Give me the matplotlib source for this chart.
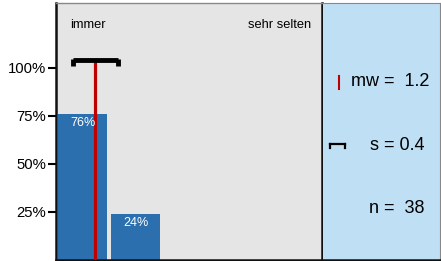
import numpy as np
import matplotlib.pyplot as plt

plt.rcParams['font.family'] = ['Liberation Sans', 'DejaVu Sans']

categories = [1, 2, 3, 4, 5]
shares = [76, 24, 0, 0, 0]
bar_labels = ['76%', '24%', '', '', '']
yticks = [25, 50, 75, 100]
ytick_labels = ['25%', '50%', '75%', '100%']
n = 38
mean = 1.24
sd = 0.427

W, H = 441, 261
fig = plt.figure(figsize=(W / 100, H / 100), dpi=100)

ax = fig.add_axes([56 / W, 1.3 / H, 266 / W, 256.7 / H])
ax.set_facecolor('#e5e5e5')
ax.set_xlim(0.5, 5.5)
ax.set_ylim(0, 133.7)

bars = ax.bar(categories, shares, width=0.92, color='#2b6fae', zorder=2)
for b, lab in zip(bars, bar_labels):
    if lab:
        ax.text(b.get_x() + b.get_width() / 2, b.get_height() - 4.8, lab,
                ha='center', va='center', color='white', fontsize=9, zorder=4)

# mean line and sd bar
ax.plot([mean, mean], [0, 104], color='#c00000', lw=2.3, zorder=3,
        solid_capstyle='butt')
ax.plot([mean - sd, mean + sd], [104, 104], color='black', lw=3.5, zorder=5,
        solid_capstyle='butt')
for xe in (mean - sd, mean + sd):
    ax.plot([xe, xe], [104.5, 100.8], color='black', lw=3.5, zorder=5,
            solid_capstyle='butt')

ax.text(0.053, 0.915, 'immer', transform=ax.transAxes, fontsize=9.3,
        ha='left', va='center')
ax.text(0.96, 0.915, 'sehr selten', transform=ax.transAxes, fontsize=9.3,
        ha='right', va='center')

ax.set_yticks(yticks)
ax.set_yticklabels(ytick_labels, fontsize=10.7)
ax.set_xticks([])
ax.tick_params(axis='y', direction='out', length=6, width=1.5, pad=1)
for s in ('left', 'bottom', 'right'):
    ax.spines[s].set_linewidth(1.8)
    ax.spines[s].set_color('#111111')
ax.spines['top'].set_color('#888888')
ax.spines['top'].set_linewidth(1)

# stats panel
ax2 = fig.add_axes([323 / W, 1.3 / H, 117 / W, 256.7 / H])
ax2.set_facecolor('#bfdff5')
ax2.set_xlim(0, 1)
ax2.set_ylim(0, 1)
ax2.set_xticks([])
ax2.set_yticks([])
ax2.spines['left'].set_visible(False)
ax2.spines['right'].set_color('#888888')
ax2.spines['top'].set_color('#888888')
ax2.spines['bottom'].set_color('#111111')
ax2.spines['bottom'].set_linewidth(1.8)

ax2.text(0.237, 0.678, f'mw =  {round(mean, 1)}', fontsize=13, ha='left', va='baseline')
ax2.text(0.402, 0.429, f's = {round(sd, 1)}', fontsize=13, ha='left', va='baseline')
ax2.text(0.393, 0.181, f'n =  {n}', fontsize=13, ha='left', va='baseline')
ax2.plot([0.137, 0.137], [0.665, 0.715], color='#c00000', lw=1.5)
ax2.plot([0.06, 0.19], [0.449, 0.449], color='black', lw=1.6)
for xe in (0.06, 0.19):
    ax2.plot([xe, xe], [0.451, 0.437], color='black', lw=1.6)

fig.savefig('out.png', dpi=100)
